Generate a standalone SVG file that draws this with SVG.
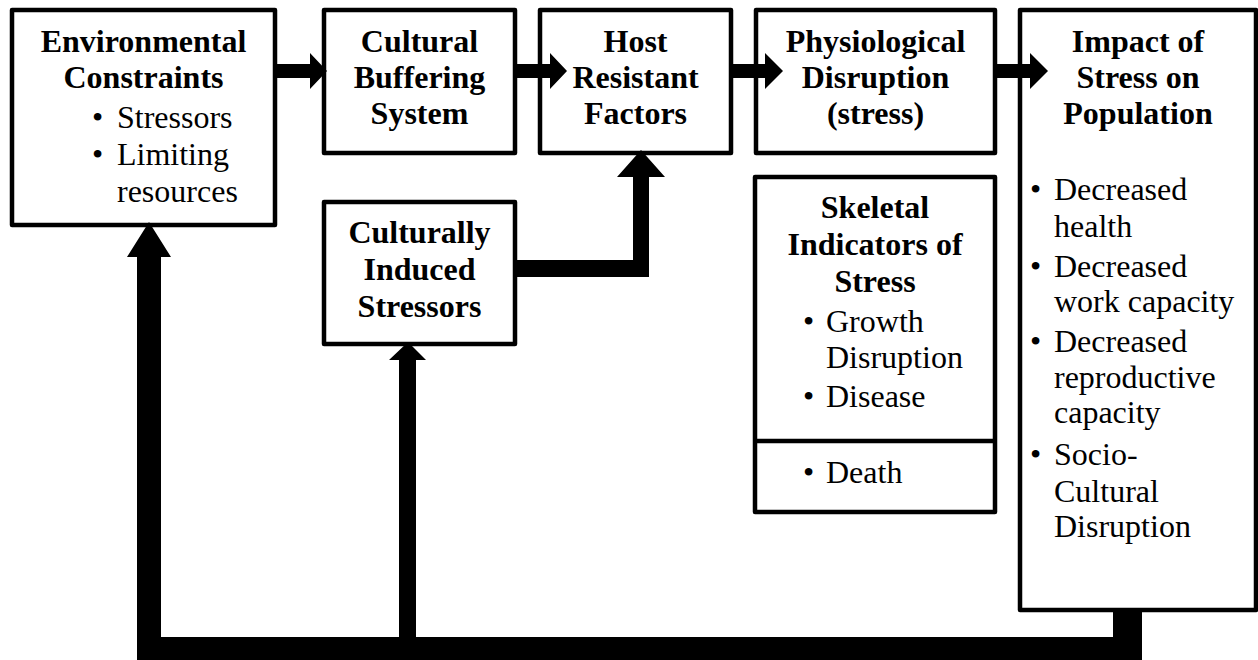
<svg xmlns="http://www.w3.org/2000/svg" width="1258" height="660" viewBox="0 0 1258 660" font-family="Liberation Serif, Times New Roman, serif">
<style>
.box{fill:#fff;stroke:#000;stroke-width:4.5;stroke-linejoin:round}
.t{font-size:32px;fill:#000}
.b{font-weight:bold;text-anchor:middle}
.c{fill:#000;stroke:none}
</style>
<rect width="1258" height="660" fill="#fff"/>
<g id="env">
<rect class="box" x="12" y="10" width="263" height="215"/>
<text class="t b" x="143.5" y="52">Environmental</text>
<text class="t b" x="143.5" y="88">Constraints</text>
<text class="t" x="92" y="128">•</text><text class="t" x="117" y="128">Stressors</text>
<text class="t" x="92" y="165">•</text><text class="t" x="117" y="165">Limiting</text>
<text class="t" x="117" y="202">resources</text>
</g>
<g id="buffer">
<rect class="box" x="324" y="10" width="191" height="143"/>
<text class="t b" x="419.5" y="52">Cultural</text>
<text class="t b" x="419.5" y="88">Buffering</text>
<text class="t b" x="419.5" y="124">System</text>
</g>
<g id="host">
<rect class="box" x="540" y="10" width="191" height="143"/>
<text class="t b" x="635.5" y="52">Host</text>
<text class="t b" x="635.5" y="88">Resistant</text>
<text class="t b" x="635.5" y="124">Factors</text>
</g>
<g id="physio">
<rect class="box" x="756" y="10" width="239" height="143"/>
<text class="t b" x="875.5" y="52">Physiological</text>
<text class="t b" x="875.5" y="88">Disruption</text>
<text class="t b" x="875.5" y="124">(stress)</text>
</g>
<g id="impact">
<rect class="box" x="1020" y="10" width="236" height="600"/>
<text class="t b" x="1138" y="52">Impact of</text>
<text class="t b" x="1138" y="88">Stress on</text>
<text class="t b" x="1138" y="124">Population</text>
<text class="t" x="1030" y="200">•</text><text class="t" x="1054" y="200">Decreased</text>
<text class="t" x="1054" y="237">health</text>
<text class="t" x="1030" y="277">•</text><text class="t" x="1054" y="277">Decreased</text>
<text class="t" x="1054" y="312">work capacity</text>
<text class="t" x="1030" y="352">•</text><text class="t" x="1054" y="352">Decreased</text>
<text class="t" x="1054" y="388">reproductive</text>
<text class="t" x="1054" y="423">capacity</text>
<text class="t" x="1030" y="465">•</text><text class="t" x="1054" y="465">Socio-</text>
<text class="t" x="1054" y="502">Cultural</text>
<text class="t" x="1054" y="537">Disruption</text>
</g>
<g id="cultstress">
<rect class="box" x="324" y="202" width="191" height="142"/>
<text class="t b" x="419.5" y="243">Culturally</text>
<text class="t b" x="419.5" y="280">Induced</text>
<text class="t b" x="419.5" y="317">Stressors</text>
</g>
<g id="skeletal">
<rect class="box" x="755" y="177" width="240" height="335"/>
<line x1="755" y1="441" x2="995" y2="441" stroke="#000" stroke-width="4.5"/>
<text class="t b" x="875" y="218">Skeletal</text>
<text class="t b" x="875" y="255">Indicators of</text>
<text class="t b" x="875" y="292">Stress</text>
<text class="t" x="803" y="332">•</text><text class="t" x="826" y="332">Growth</text>
<text class="t" x="826" y="368">Disruption</text>
<text class="t" x="803" y="407">•</text><text class="t" x="826" y="407">Disease</text>
<text class="t" x="803" y="483">•</text><text class="t" x="826" y="483">Death</text>
</g>
<g id="connectors">
<polygon class="c" points="277,64 310,64 310,53 327,71 310,89 310,78 277,78"/>
<polygon class="c" points="517,64 550,64 550,53 567,71 550,89 550,78 517,78"/>
<polygon class="c" points="733,64 765,64 765,53 783,71 765,89 765,78 733,78"/>
<polygon class="c" points="997,64 1030,64 1030,53 1048,71 1030,89 1030,78 997,78"/>
<polygon class="c" points="517,260 633,260 633,177 617,177 641,150 665,177 649,177 649,277 517,277"/>
<polygon class="c" points="137,660 137,257 127,257 149,222 171,257 161,257 161,637 399,637 399,360 389,360 408,342 426,360 416,360 416,637 1113,637 1113,612 1142,612 1142,660"/>
</g>
</svg>
